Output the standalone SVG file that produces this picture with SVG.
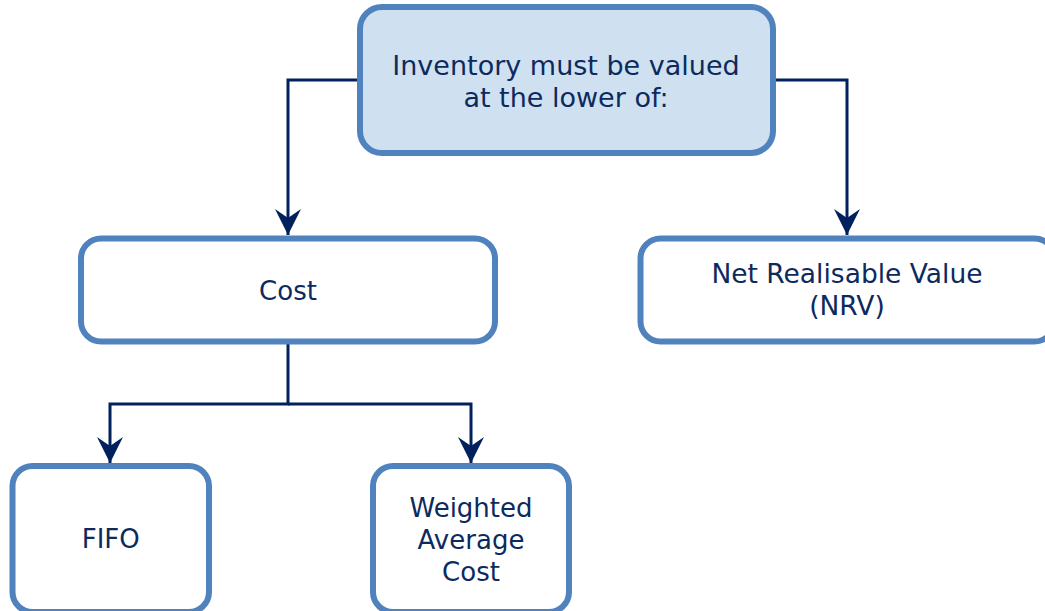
<svg xmlns="http://www.w3.org/2000/svg" width="1045" height="611" viewBox="0 0 1045 611">
<style>
.box{fill:#ffffff;stroke:#5082be;stroke-width:6}
.top{fill:#cfe1f0}
.lbl{font-family:"DejaVu Sans","Verdana",sans-serif;font-size:26px;fill:#0d2a5e;text-anchor:middle}
.big{font-size:27px}
.mid{font-size:26.5px}
.con{fill:none;stroke:#00215e;stroke-width:3}
</style>
<defs>
<marker id="arr" viewBox="0 0 26 26" refX="26" refY="13" markerWidth="26" markerHeight="26" markerUnits="userSpaceOnUse" orient="auto">
<path d="M0,0 L26,13 L0,26 L9,13 Z" fill="#00215e"/>
</marker>
</defs>
<rect width="1045" height="611" fill="#ffffff"/>
<g id="connectors">
<path class="con" d="M360,80 H288 V235" marker-end="url(#arr)"/>
<path class="con" d="M773,80 H847 V235" marker-end="url(#arr)"/>
<path class="con" d="M288,341 V404 H110 V463" marker-end="url(#arr)"/>
<path class="con" d="M288,404 H471 V463" marker-end="url(#arr)"/>
</g>
<g id="node-inventory">
<rect class="box top" x="360" y="7" width="413" height="146" rx="22"/>
<text class="lbl big" x="566" y="75">Inventory must be valued</text>
<text class="lbl big" x="566" y="107">at the lower of:</text>
</g>
<g id="node-cost">
<rect class="box" x="81" y="238.5" width="414" height="103" rx="20"/>
<text class="lbl" x="288" y="300">Cost</text>
</g>
<g id="node-nrv">
<rect class="box" x="640.5" y="238.5" width="414" height="103" rx="20"/>
<text class="lbl mid" x="847" y="283">Net Realisable Value</text>
<text class="lbl mid" x="847" y="315">(NRV)</text>
</g>
<g id="node-fifo">
<rect class="box" x="12.5" y="466" width="196.5" height="146" rx="20"/>
<text class="lbl" x="110.7" y="548">FIFO</text>
</g>
<g id="node-wac">
<rect class="box" x="373" y="466" width="196" height="146" rx="20"/>
<text class="lbl" x="471" y="517">Weighted</text>
<text class="lbl" x="471" y="549">Average</text>
<text class="lbl" x="471" y="581">Cost</text>
</g>
</svg>
